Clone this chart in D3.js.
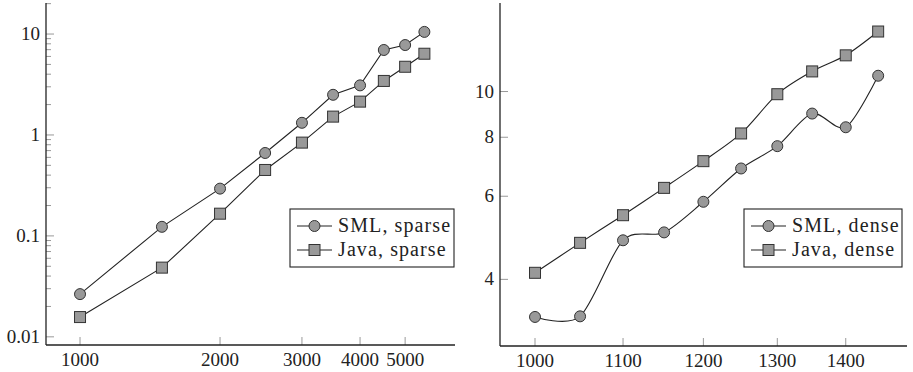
<!DOCTYPE html>
<html>
<head>
<meta charset="utf-8">
<script src="https://cdn.jsdelivr.net/npm/d3@7"></script>
<style>
  body { margin: 0; background: #fff; }
</style>
</head>
<body>
<svg id="chart" width="913" height="372"></svg>
<script>
// left panel data (sparse)
var sparseN = [1000, 1500, 2000, 2500, 3000, 3500, 4000, 4500, 5000, 5500];
var smlSparse = [0.0265, 0.123, 0.294, 0.663, 1.32, 2.5, 3.1, 6.95, 7.78, 10.5];
var javaSparse = [0.0157, 0.0485, 0.166, 0.45, 0.84, 1.52, 2.14, 3.43, 4.74, 6.38];
var sparseXTicks = [1000, 2000, 3000, 4000, 5000];
var sparseYTicks = [0.01, 0.1, 1, 10];

// right panel data (dense)
var denseN = [1000, 1050, 1100, 1150, 1200, 1250, 1300, 1350, 1400, 1450];
var smlDense = [3.33, 3.34, 4.84, 5.03, 5.84, 6.87, 7.66, 8.98, 8.40, 10.8];
var javaDense = [4.13, 4.78, 5.47, 6.25, 7.12, 8.15, 9.87, 11.03, 11.93, 13.4];
var denseXTicks = [1000, 1100, 1200, 1300, 1400];
var denseYTicks = [4, 6, 8, 10];

var svg = d3.select("#chart");
var fontSize = 19;
var fontFamily = "'Liberation Serif', 'Times New Roman', serif";

function drawPanel(opts) {
    var g = svg.append("g");
    var x = opts.x, y = opts.y;
    var x0 = x.range()[0], x1 = x.range()[1];
    var yb = y.range()[0], yt = y.range()[1];

    // minor ticks
    if (opts.minorY) {
        g.selectAll(".minor").data(opts.minorY).enter().append("line")
            .attr("x1", x0).attr("x2", x0 + 5)
            .attr("y1", d => y(d)).attr("y2", d => y(d))
            .attr("stroke", "#999").attr("stroke-width", 1);
    }
    // major y ticks
    g.selectAll(".ytick").data(opts.yTicks).enter().append("line")
        .attr("x1", x0).attr("x2", x0 + 8)
        .attr("y1", d => y(d)).attr("y2", d => y(d))
        .attr("stroke", "#999").attr("stroke-width", 1);
    g.selectAll(".ylab").data(opts.yTicks).enter().append("text")
        .attr("x", x0 - 6).attr("y", d => y(d) + 6)
        .attr("text-anchor", "end")
        .attr("font-family", fontFamily)
        .attr("font-size", fontSize)
        .attr("fill", "#222")
        .text(d => d);

    // x ticks
    g.selectAll(".xtick").data(opts.xTicks).enter().append("line")
        .attr("x1", d => x(d)).attr("x2", d => x(d))
        .attr("y1", yb).attr("y2", yb - 8)
        .attr("stroke", "#999").attr("stroke-width", 1);
    g.selectAll(".xlab").data(opts.xTicks).enter().append("text")
        .attr("x", d => x(d)).attr("y", yb + 21)
        .attr("text-anchor", "middle")
        .attr("font-family", fontFamily)
        .attr("font-size", fontSize)
        .attr("fill", "#222")
        .text(d => d);

    // axis lines
    g.append("line").attr("x1", x0).attr("x2", x0).attr("y1", yt).attr("y2", yb)
        .attr("stroke", "#222").attr("stroke-width", 1.3);
    g.append("line").attr("x1", x0).attr("x2", x1).attr("y1", yb).attr("y2", yb)
        .attr("stroke", "#222").attr("stroke-width", 1.3);

    // series
    opts.series.forEach(function(s) {
        var line = d3.line()
            .x((d, i) => x(opts.xs[i]))
            .y(d => y(d))
            .curve(opts.curve);
        g.append("path").datum(s.values)
            .attr("d", line)
            .attr("fill", "none")
            .attr("stroke", "#222")
            .attr("stroke-width", 1.1);
        drawMarkers(g, s.shape, s.values.map((d, i) => [x(opts.xs[i]), y(d)]));
    });

    // legend
    var L = opts.legend;
    g.append("rect").attr("x", L.x).attr("y", L.y).attr("width", L.w).attr("height", L.h)
        .attr("fill", "#fff").attr("stroke", "#222").attr("stroke-width", 1.1);
    opts.series.forEach(function(s, i) {
        var cy = L.y + 17 + i * 24;
        g.append("line").attr("x1", L.x + 7).attr("x2", L.x + 42)
            .attr("y1", cy).attr("y2", cy)
            .attr("stroke", "#222").attr("stroke-width", 1.1);
        drawMarkers(g, s.shape, [[L.x + 24.5, cy]]);
        g.append("text").attr("x", L.x + 48).attr("y", cy + 6)
            .attr("font-family", fontFamily)
            .attr("font-size", 20)
            .attr("letter-spacing", 1.1)
            .attr("fill", "#222")
            .text(s.name);
    });
}

function drawMarkers(g, shape, pts) {
    if (shape === "circle") {
        g.append("g").selectAll("circle").data(pts).enter().append("circle")
            .attr("cx", d => d[0]).attr("cy", d => d[1]).attr("r", 5.5)
            .attr("fill", "#999").attr("stroke", "#333").attr("stroke-width", 1);
    } else {
        g.append("g").selectAll("rect").data(pts).enter().append("rect")
            .attr("x", d => d[0] - 5.5).attr("y", d => d[1] - 5.5)
            .attr("width", 11).attr("height", 11)
            .attr("fill", "#999").attr("stroke", "#333").attr("stroke-width", 1);
    }
}

// left: log-log
var xLeft = d3.scaleLog().domain([845, 6400]).range([46, 455]);
var yLeft = d3.scaleLog().domain([0.0083, 20.3]).range([345, 3]);
var minorLeft = [];
[0.01, 0.1, 1, 10].forEach(function(p) {
    for (var k = 2; k <= 9; k++) {
        var v = p * k;
        if (v < yLeft.domain()[1]) minorLeft.push(v);
    }
});

drawPanel({
    x: xLeft, y: yLeft, xs: sparseN,
    xTicks: sparseXTicks, yTicks: sparseYTicks, minorY: minorLeft,
    curve: d3.curveLinear,
    series: [
        {name: "SML, sparse", values: smlSparse, shape: "circle"},
        {name: "Java, sparse", values: javaSparse, shape: "square"}
    ],
    legend: {x: 290, y: 209, w: 164, h: 58}
});

// right: log-log, smooth
var xRight = d3.scaleLog().domain([962.8, 1496]).range([500, 907]);
var yRight = d3.scaleLog().domain([2.89, 15.4]).range([346, 3]);

drawPanel({
    x: xRight, y: yRight, xs: denseN,
    xTicks: denseXTicks, yTicks: denseYTicks,
    curve: d3.curveCardinal.tension(0.15),
    series: [
        {name: "SML, dense", values: smlDense, shape: "circle"},
        {name: "Java, dense", values: javaDense, shape: "square"}
    ],
    legend: {x: 744, y: 209, w: 158, h: 58}
});
</script>
</body>
</html>
